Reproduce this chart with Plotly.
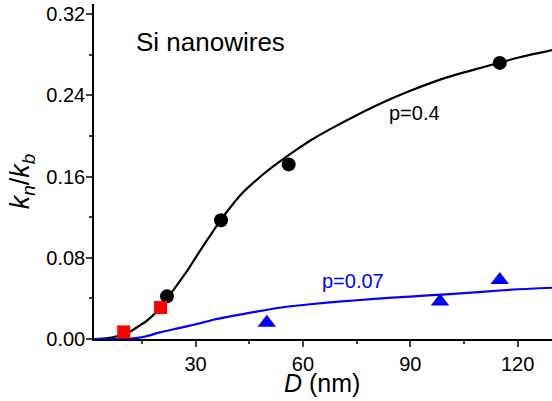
import plotly.graph_objects as go

# ---- data ----
fit_p04_x = [1.6, 4, 6, 8, 10, 12, 14, 16, 18, 20, 23, 26, 28, 30, 32, 34, 37, 40, 43, 46, 50, 53, 58,
             63, 68, 75, 82, 90, 100, 110, 120, 129.6]
fit_p04_y = [0, 0.0003, 0.0012, 0.0027, 0.0047, 0.0078, 0.0125, 0.017, 0.023, 0.031, 0.0445, 0.059,
             0.069, 0.0802, 0.091, 0.1015, 0.117, 0.131, 0.1435, 0.1535, 0.1655, 0.1735, 0.186,
             0.1975, 0.2075, 0.2205, 0.2325, 0.2445, 0.2575, 0.2675, 0.277, 0.2845]

fit_p007_x = [1.6, 8, 12, 16, 20, 25, 30, 35, 40, 47, 54, 62, 70, 80, 90, 100, 110, 120, 129.6]
fit_p007_y = [0, 0, 0.0003, 0.0025, 0.0065, 0.0105, 0.0145, 0.019, 0.0225, 0.027, 0.031, 0.0342,
              0.0368, 0.0395, 0.0418, 0.044, 0.0465, 0.049, 0.0505]

circle_x = [22.0, 37.1, 56.0, 115.0]
circle_y = [0.042, 0.117, 0.172, 0.272]

square_x = [9.9, 20.2]
square_y = [0.007, 0.031]

triangle_x = [49.9, 98.3, 115.0]
triangle_y = [0.016, 0.037, 0.058]

x_ticks = [30, 60, 90, 120]
y_ticks = [0.00, 0.08, 0.16, 0.24, 0.32]

FONT = "Arial, Liberation Sans, sans-serif"

fig = go.Figure()
fig.add_trace(go.Scatter(x=fit_p04_x, y=fit_p04_y, mode="lines",
                         line=dict(color="black", width=2.2, shape="spline", smoothing=0.6)))
fig.add_trace(go.Scatter(x=fit_p007_x, y=fit_p007_y, mode="lines",
                         line=dict(color="#0000ff", width=2.2, shape="spline", smoothing=0.6)))
fig.add_trace(go.Scatter(x=circle_x, y=circle_y, mode="markers",
                         marker=dict(symbol="circle", size=14, color="black")))
fig.add_trace(go.Scatter(x=square_x, y=square_y, mode="markers",
                         marker=dict(symbol="square", size=13, color="#ff0000")))
fig.add_trace(go.Scatter(x=triangle_x, y=triangle_y, mode="markers",
                         marker=dict(symbol="triangle-up", size=16, color="#0000ff")))

fig.update_layout(
    width=552, height=401,
    margin=dict(l=94, r=0, t=4, b=62),
    paper_bgcolor="white", plot_bgcolor="white",
    showlegend=False,
    font=dict(family=FONT, color="black", size=20),
    xaxis=dict(range=[1.6, 129.6], tickvals=x_ticks, ticks="outside", ticklen=6, tickwidth=1.5,
               showline=True, linecolor="black", linewidth=1.5, showgrid=False, zeroline=False,
               tickfont=dict(size=20, family=FONT),
               minor=dict(dtick=15, tick0=0, ticks="outside", ticklen=3, tickwidth=1.5, showgrid=False)),
    yaxis=dict(range=[0, 0.33], tickvals=y_ticks, tickformat=".2f", ticks="outside", ticklen=6,
               tickwidth=1.5, showline=True, linecolor="black", linewidth=1.5, showgrid=False,
               zeroline=False, tickfont=dict(size=20, family=FONT), ticklabelstandoff=-3,
               minor=dict(dtick=0.04, tick0=0, ticks="outside", ticklen=3, tickwidth=1.5, showgrid=False)),
    annotations=[
        dict(text="Si nanowires", x=12.9, y=0.293, xref="x", yref="y", xanchor="left",
             yanchor="middle", showarrow=False, font=dict(size=26, family=FONT, color="black")),
        dict(text="p=0.4", x=91.2, y=0.223, xref="x", yref="y", xanchor="center",
             yanchor="middle", showarrow=False, font=dict(size=20, family=FONT, color="black")),
        dict(text="p=0.07", x=74.0, y=0.0567, xref="x", yref="y", xanchor="center",
             yanchor="middle", showarrow=False, font=dict(size=20, family=FONT, color="#0000ff")),
        dict(text="<i>D</i> (nm)", x=0.498, y=-0.13, xref="paper", yref="paper", xanchor="center",
             yanchor="middle", showarrow=False, font=dict(size=25, family=FONT, color="black")),
        dict(text="<i>k</i><sub><i>n</i></sub>/<i>k</i><sub><i>b</i></sub>", x=-0.158, y=0.47,
             xref="paper", yref="paper", xanchor="center", yanchor="middle", textangle=-90,
             showarrow=False, font=dict(size=27, family=FONT, color="black")),
    ],
)

fig.write_html("out.html", config={"displayModeBar": False},
               post_script="document.body.style.margin='0';document.body.style.overflow='hidden';")
